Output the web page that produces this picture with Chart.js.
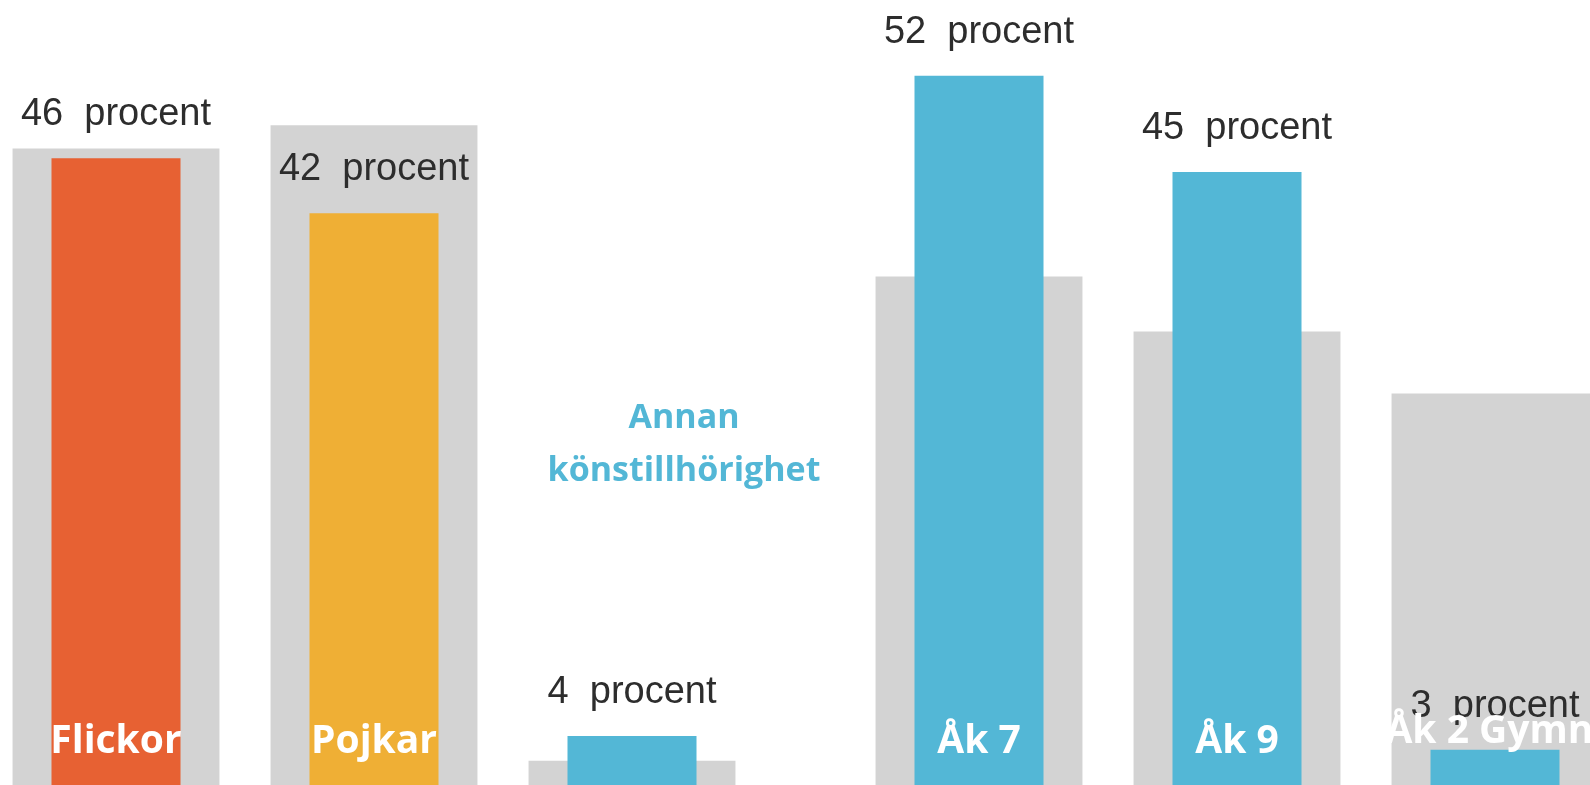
<!DOCTYPE html>
<html lang="sv">
<head>
<meta charset="utf-8">
<title>Andel procent – kön och årskurs</title>
<script src="https://cdn.jsdelivr.net/npm/chart.js@4/dist/chart.umd.min.js"></script>
<style>
    html, body { margin: 0; padding: 0; background: #fff; overflow: hidden; width: 1590px; height: 785px; }
    .panel { position: absolute; top: 0; height: 800px; }
    #gender-panel { left: -13px; width: 900px; }
    #grade-panel { left: 850px; width: 774px; }
</style>
</head>
<body>
<div class="panel" id="gender-panel"><canvas id="genderChart"></canvas></div>
<div class="panel" id="grade-panel"><canvas id="gradeChart"></canvas></div>

<script>
// Kön
const genderCategories = ['Flickor', 'Pojkar', 'Annan könstillhörighet'];
const genderShares = [46, 42, 4];
const genderBackdrop = [46.7, 48.4, 2.2];
const genderColors = ['#E76133', '#EFAF35', '#53B7D6'];

// Årskurs
const gradeCategories = ['Åk 7', 'Åk 9', 'Åk 2 Gymn.'];
const gradeShares = [52, 45, 3];
const gradeBackdrop = [37.4, 33.4, 28.9];
const gradeColors = ['#53B7D6', '#53B7D6', '#53B7D6'];

const GREY = '#D3D3D3';
const Y_MAX = 57.5;
const NAME_BASELINE = 753;

// "46  procent" above each coloured bar, category name in white at the bar foot
const barLabels = {
    id: 'barLabels',
    afterDatasetsDraw(chart, args, opts) {
        const { ctx } = chart;
        const meta = chart.getDatasetMeta(0);
        const data = chart.data.datasets[0].data;
        ctx.save();
        ctx.textAlign = 'center';
        ctx.textBaseline = 'alphabetic';
        meta.data.forEach((bar, i) => {
            ctx.fillStyle = '#2d2d2d';
            ctx.font = '38px "Liberation Sans", Arial, sans-serif';
            ctx.fillText(data[i] + '  procent', bar.x, bar.y - 33);
        });
        meta.data.forEach((bar, i) => {
            if (opts.skip && opts.skip.includes(i)) return;
            ctx.fillStyle = '#ffffff';
            ctx.font = 'bold 39px "Open Sans", sans-serif';
            // a very short bar gets its name just above the bar top
            const y = bar.y > NAME_BASELINE - 13 ? bar.y - 7 : NAME_BASELINE;
            ctx.fillText(chart.data.labels[i], bar.x, y);
        });
        // free-standing caption for a category
        if (opts.caption) {
            const c = opts.caption;
            ctx.fillStyle = c.color;
            ctx.font = 'bold 34px "Open Sans", sans-serif';
            c.lines.forEach((line, k) => ctx.fillText(line, c.x, c.y + k * 53));
        }
        ctx.restore();
    }
};

function makeChart(id, categories, shares, backdrop, colors, padRight, labelOpts) {
    return new Chart(document.getElementById(id), {
        type: 'bar',
        data: {
            labels: categories,
            datasets: [{
                data: shares,
                backgroundColor: colors,
                borderWidth: 0,
                barPercentage: 0.5,
                categoryPercentage: 1,
                order: 0
            }, {
                data: backdrop,
                backgroundColor: GREY,
                borderWidth: 0,
                barPercentage: 0.802,
                categoryPercentage: 1,
                order: 1
            }]
        },
        options: {
            responsive: true,
            maintainAspectRatio: false,
            animation: false,
            layout: { padding: { top: 0, left: 0, right: padRight, bottom: 9 } },
            plugins: {
                legend: { display: false },
                tooltip: { enabled: false },
                barLabels: labelOpts
            },
            scales: {
                x: { display: false, grid: { display: false } },
                y: { display: false, min: 0, max: Y_MAX, grid: { display: false } }
            },
            datasets: { bar: { grouped: false } }
        },
        plugins: [barLabels]
    });
}

makeChart('genderChart', genderCategories, genderShares, genderBackdrop, genderColors, 126, {
    skip: [2],
    caption: { lines: ['Annan', 'könstillhörighet'], x: 697, y: 428, color: '#53B7D6' }
});
makeChart('gradeChart', gradeCategories, gradeShares, gradeBackdrop, gradeColors, 0, {});
</script>
</body>
</html>
